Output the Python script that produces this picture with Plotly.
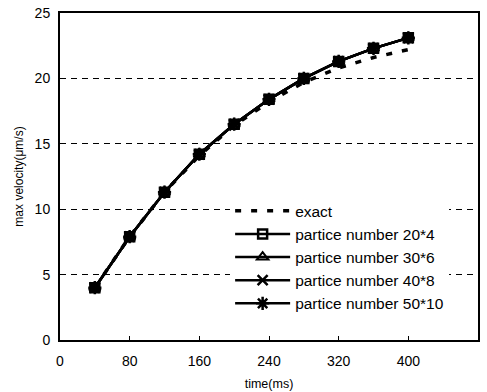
import plotly.graph_objects as go

time_ms = [40, 80, 120, 160, 200, 240, 280, 320, 360, 400]
exact = [4.0, 7.9, 11.3, 14.1, 16.4, 18.2, 19.7, 20.8, 21.6, 22.2]
p20x4 = [4.0, 7.9, 11.3, 14.2, 16.5, 18.4, 20.0, 21.3, 22.3, 23.1]
p30x6 = [4.0, 7.9, 11.3, 14.2, 16.5, 18.4, 20.0, 21.3, 22.3, 23.1]
p40x8 = [4.0, 7.9, 11.3, 14.2, 16.5, 18.4, 20.0, 21.3, 22.3, 23.1]
p50x10 = [4.0, 7.9, 11.3, 14.2, 16.5, 18.4, 20.0, 21.3, 22.3, 23.1]

x_ticks = [0, 80, 160, 240, 320, 400, 480]
y_ticks = [0, 5, 10, 15, 20, 25]

fig = go.Figure()
fig.add_trace(go.Scatter(x=time_ms, y=exact, mode="lines", name="exact",
                         line=dict(color="black", width=3.5, dash="6px,10px")))
series = [
    ("partice number 20*4", p20x4, "square-open", 9, 2.5),
    ("partice number 30*6", p30x6, "triangle-up-open", 10, 2),
    ("partice number 40*8", p40x8, "x-thin-open", 10, 2.5),
    ("partice number 50*10", p50x10, "asterisk-open", 11, 2.5),
]
for name, ys, sym, sz, lw in series:
    fig.add_trace(go.Scatter(x=time_ms, y=ys, mode="lines+markers", name=name,
                             line=dict(color="black", width=2.5),
                             marker=dict(symbol=sym, size=sz, color="black",
                                         line=dict(color="black", width=lw))))

fig.update_layout(
    width=487, height=392,
    margin=dict(l=60, r=9, t=13, b=52),
    paper_bgcolor="white", plot_bgcolor="white",
    font=dict(family="Liberation Sans, Arial, sans-serif", size=12, color="black"),
    showlegend=True,
    legend=dict(x=0.407, y=0.446, xanchor="left", yanchor="top",
                bgcolor="white", borderwidth=0, itemwidth=55,
                font=dict(size=15.5), tracegroupgap=0),
    xaxis=dict(range=[0, 480], tickvals=x_ticks, showgrid=False,
               showline=True, linecolor="black", linewidth=2, mirror=True,
               ticks="inside", ticklen=4, tickcolor="black",
               ticklabelstandoff=7, automargin=False,
               title=dict(text="time(ms)", font=dict(size=12.5), standoff=11),
               zeroline=False, tickfont=dict(size=14)),
    yaxis=dict(range=[0, 25], tickvals=y_ticks, showgrid=True,
               gridcolor="black", gridwidth=1, griddash="6px,5px",
               showline=True, linecolor="black", linewidth=2, mirror=True,
               ticks="", zeroline=False, ticklabelstandoff=5, automargin=False,
               title=dict(text="max velocity(μm/s)", font=dict(size=12), standoff=8),
               tickfont=dict(size=14)),
)

fig.write_html("out.html")
